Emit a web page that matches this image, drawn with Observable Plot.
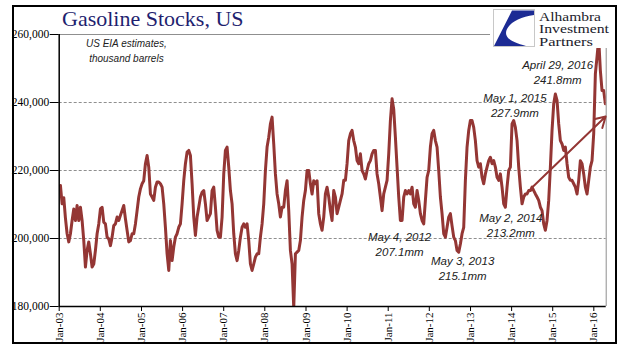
<!DOCTYPE html>
<html><head><meta charset="utf-8">
<script src="https://cdn.jsdelivr.net/npm/d3@7"></script>
<script src="https://cdn.jsdelivr.net/npm/@observablehq/plot@0.6"></script>
<style>
html,body{margin:0;padding:0;background:#fff;}
#wrap{position:relative;width:641px;height:361px;overflow:hidden;}
#chart{position:absolute;left:0;top:0;}
#frame{position:absolute;left:12px;top:5px;width:605px;height:339px;box-sizing:border-box;border:2px solid #000;pointer-events:none;}
#title{position:absolute;left:62px;top:6px;font:22px "Liberation Serif",serif;color:#1f1f70;white-space:nowrap;}
#sub{position:absolute;left:86px;top:36px;font:italic 10px "Liberation Sans",sans-serif;color:#222;text-align:center;line-height:15px;white-space:nowrap;}
#logo{position:absolute;left:490px;top:8px;width:124px;height:40px;background:#fff;}
</style></head>
<body><div id="wrap">
<div id="chart"></div>
<div id="title">Gasoline Stocks, US</div>
<div id="sub">US EIA estimates,<br>thousand barrels</div>
<div id="logo"><svg width="124" height="40">
<rect x="3.5" y="1.5" width="41" height="37" fill="#fff" stroke="#c8c8c8"/>
<path d="M22,2.5 L44,2.5 L44,7 C28,9 16,17 16,25 C16,31 24,35 36,38 L4,38 Z" fill="#1c2b94"/>
<text x="49" y="12.5" font-family="Liberation Serif" font-size="12" textLength="62" lengthAdjust="spacingAndGlyphs" fill="#1b1b2b">Alhambra</text>
<text x="49" y="25" font-family="Liberation Serif" font-size="12" textLength="70" lengthAdjust="spacingAndGlyphs" fill="#1b1b2b">Investment</text>
<text x="49" y="37.5" font-family="Liberation Serif" font-size="12" textLength="54" lengthAdjust="spacingAndGlyphs" fill="#1b1b2b">Partners</text>
</svg></div>
<div id="frame"></div>
</div>
<script>
// Weekly-ish readings of US gasoline stocks (million barrels)
const stocks2003to2006 = [215.6,210.2,212,206,201.4,199,201.4,205.3,208.7,205.3,209.7,205.3,209.2,205.3,199.4,191.6,196.5,199,195.5,191.6,192.5,196.5,201.4,204.3,208.7,209.2,204.8,204.3,200.4,199.9,197.9,200.4,203.8,204.3,206.3,205.3,206.8,208.2,209.7,205.8,202.4,199,199.4,201.4,201.4,204.3,208.2,212.2,214.6,216.1,217,222,224.4,221,213.1,212.2,211.2,215.1,216.6,216.6,216.1,215.1,210.2,203.3,195.5,190.6,199.4,193.5,197.5,200.4,201.4,203.3,204.3,210.2,217,222,225.4,225.9,224.4];
const stocks2006to2009 = [216.1,206.3,200.9,206.3,209.2,212.2,213.6,214.1,210.2,205.3,206.3,207.3,214.1,215.1,209.2,202.4,200.4,200.4,206.3,219,225.9,226.9,221,214.1,210.2,201.4,195.5,193.5,196.5,200.4,203.3,204.3,203.3,204.3,199.4,192.5,190.6,192.5,194.5,195.5,195.5,200.4,204.3,210.2,220,226.9,229.8,233.7,235.7,227.8,219,213.1,210.2,206.3,209.2,209.2,214.1,217,208.2,196.5,192.5,179.6,195.5,196,196.5,199.4,206.3,211.2,214.1,220,220,216.1,213.1,217,216.1,217,207.3,204.3,202.4,206.3,213.1];
const stocks2009to2012 = [215.1,212.2,208.2,205.3,214.1,212.2,207.3,209.2,211.2,213.1,217.1,217.1,222,228.8,230.8,231.8,228.8,226.9,222.9,222,224.9,220,219,217.5,220,222,222.9,224.9,225.9,225.9,219,216.1,212.2,208.2,213.1,215.1,217.1,224.9,234.7,241.1,238,229.8,221,212.2,205.3,205.3,212.2,214.1,213.1,214.1,213.1,215.1,210.2,209.2,214.1,211.2,207.3,205.3,204.3,211.2,218,220,226.9,230.8,231.8,228.8,226.9,220,212.2,207.3,201.4,200.4,203.3,206.3,207.3,203.7,200.4,199.4,196.5,196,198.4];
const stocks2012to2016 = [201.4,203.3,217.1,226.9,231.8,234.7,234.7,232.7,228.8,222.9,221,222,218,216.1,219,221,222.9,223.9,222,222.9,221,218,217.1,219,215.1,210.2,209.2,215.1,220,221,233.7,234.7,232.7,228.8,221,215.1,210.2,212.2,213.1,213.1,214.1,214.1,215.1,214.1,213.1,212.2,211.2,209.2,208.2,204.3,202.4,205.3,211.2,221,231.8,239.6,242.5,240.6,233.7,228.8,227.8,225.9,226.9,222,218,217.1,217.1,216.1,215.1,213.1,217.1,222.9,222,219,215.1,213.1,217.1,221,222.9,230.8,248.4,253.5,258.7,249.4,243.5,243.5,239.6];
const firstReading = "2003-01-12";
const readingStepDays = 14.8;

const yTicks = [180000, 200000, 220000, 240000, 260000];
const xTickYears = [2003,2004,2005,2006,2007,2008,2009,2010,2011,2012,2013,2014,2015,2016];
const xStart = "2003-01-01", xEnd = "2016-04-20";

const annotations = [
  {label: "May 4, 2012\n207.1mm", date: "2011-04-12", value: 198.4},
  {label: "May 3, 2013\n215.1mm", date: "2012-10-23", value: 191.5},
  {label: "May 2, 2014\n213.2mm", date: "2013-12-25", value: 204.0},
  {label: "May 1, 2015\n227.9mm", date: "2014-01-30", value: 239.4},
  {label: "April 29, 2016\n241.8mm", date: "2015-02-14", value: 249.0}
];
const trendArrow = [{from: "2014-07-04", fromValue: 215.1, to: "2016-04-15", toValue: 235.9}];

const allStocks = [...stocks2003to2006, ...stocks2006to2009, ...stocks2009to2012, ...stocks2012to2016];
const t0 = new Date(firstReading + "T00:00:00Z").getTime();
const series = allStocks.map((v, i) => ({date: new Date(t0 + i * readingStepDays * 864e5), stocks: v * 1000}));
const red = "#943634";
const grid = "#8f8f8f";

const chart = Plot.plot({
  width: 641, height: 361,
  marginLeft: 58.7, marginRight: 35.3, marginTop: 34, marginBottom: 55,
  style: {fontFamily: "Liberation Serif", fontSize: "11.5px", color: "#000", background: "transparent"},
  x: {type: "utc", domain: [new Date(xStart), new Date(xEnd)]},
  y: {domain: [180000, 260000]},
  marks: [
    Plot.ruleY(yTicks.slice(1, 4), {stroke: grid, strokeDasharray: "3,2", strokeWidth: 1}),
    Plot.ruleY([260000], {stroke: grid, strokeWidth: 1}),
    Plot.ruleX([new Date(xEnd)], {stroke: grid, strokeWidth: 1}),
    Plot.lineY(series, {x: "date", y: "stocks", stroke: red, strokeWidth: 3, clip: true}),
    Plot.arrow(trendArrow, {x1: d => new Date(d.from), y1: d => d.fromValue * 1000, x2: d => new Date(d.to), y2: d => d.toValue * 1000, stroke: red, strokeWidth: 2, headLength: 9}),
    Plot.text(annotations, {x: d => new Date(d.date), y: d => d.value * 1000, text: "label", fontFamily: "Liberation Sans", fontStyle: "italic", fontSize: 11.5, fill: "#222", lineHeight: 1.3}),
    Plot.axisY({ticks: yTicks, tickSize: 9, tickPadding: 1, tickFormat: d3.format(","), label: null}),
    Plot.axisX({ticks: xTickYears.map(y => new Date(Date.UTC(y, 0, 1))), tickSize: 5, tickPadding: 1, tickRotate: -90, fontSize: 11, tickFormat: d3.utcFormat("%b-%y"), label: null}),
    Plot.ruleX([new Date(xStart)], {stroke: "#000", strokeWidth: 1.5}),
    Plot.ruleY([180000], {stroke: "#000", strokeWidth: 1.5})
  ]
});
document.getElementById("chart").appendChild(chart);
</script>
</body></html>
